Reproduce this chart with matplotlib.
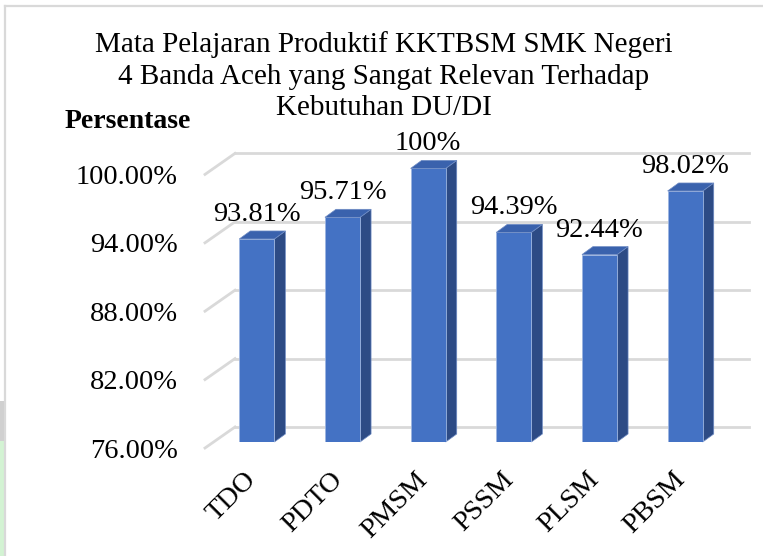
import matplotlib
matplotlib.use("Agg")
import matplotlib.pyplot as plt
from matplotlib.patches import Polygon, Rectangle
from matplotlib.lines import Line2D
import numpy as np

plt.rcParams['font.family'] = ['Liberation Serif', 'DejaVu Serif']

categories = ["TDO", "PDTO", "PMSM", "PSSM", "PLSM", "PBSM"]
values = [93.81, 95.71, 100.0, 94.39, 92.44, 98.02]
value_labels = ["93.81%", "95.71%", "100%", "94.39%", "92.44%", "98.02%"]
yticks = [76, 82, 88, 94, 100]
ytick_labels = ["76.00%", "82.00%", "88.00%", "94.00%", "100.00%"]
title_lines = ["Mata Pelajaran Produktif KKTBSM SMK Negeri",
               "4 Banda Aceh yang Sangat Relevan Terhadap",
               "Kebutuhan DU/DI"]
ylabel = "Persentase"

W, H = 763, 556
fig = plt.figure(figsize=(W / 100, H / 100), dpi=100)
fig.patch.set_facecolor("white")

ax = fig.add_axes([214 / W, (H - 442) / H, 514 / W, 273.6 / H])
ax.set_xlim(-0.5, 5.5)
ax.set_ylim(76, 100)
ax.axis("off")

# pixel -> data conversion
p0 = ax.transData.transform((0, 76))
p1 = ax.transData.transform((1, 77))
px_x = p1[0] - p0[0]
px_y = p1[1] - p0[1]

def dx(px):
    return px / px_x

def dy(px):
    return px / px_y

grid_c = "#d9d9d9"
back = (dx(21), dy(15))
front = (dx(-9), dy(-6))
x0, x1 = -0.5, 5.5
for t in yticks:
    ax.add_line(Line2D([x0 + back[0], x1 + back[0]], [t + back[1], t + back[1]],
                       color=grid_c, lw=2, zorder=0, clip_on=False))
    ax.add_line(Line2D([x0 + front[0], x0 + back[0]], [t + front[1], t + back[1]],
                       color=grid_c, lw=2, zorder=0, clip_on=False))

# bars with pseudo-3D faces
x = np.arange(len(categories))
w = 0.41
sdx, sdy = dx(11), dy(8)
vals = np.array(values)
ax.bar(x, vals - 76, bottom=76, width=w, color="#4472C4",
       edgecolor="#9db5e0", linewidth=0.6, zorder=3)
for xi, v in zip(x, vals):
    r = xi + w / 2
    l = xi - w / 2
    side = Polygon([(r, 76), (r + sdx, 76 + sdy), (r + sdx, v + sdy), (r, v)],
                   closed=True, facecolor="#2D4B85", edgecolor="#6f8cc4",
                   linewidth=0.5, zorder=2, clip_on=False)
    top = Polygon([(l, v), (r, v), (r + sdx, v + sdy), (l + sdx, v + sdy)],
                  closed=True, facecolor="#3A62AD", edgecolor="#6f8cc4",
                  linewidth=0.5, zorder=4, clip_on=False)
    ax.add_patch(side)
    ax.add_patch(top)

# data labels
for xi, v, lab in zip(x, vals, value_labels):
    ax.annotate(lab, (xi, v), xytext=(0, 18), textcoords="offset pixels",
                ha="center", va="baseline", fontsize=20.5, color="black",
                annotation_clip=False)

# y tick labels on front plane
for t, lab in zip(yticks, ytick_labels):
    ax.annotate(lab, (x0, t), xytext=(-36, -9), textcoords="offset pixels",
                ha="right", va="center", fontsize=20.5, color="black",
                annotation_clip=False)

# x category labels
for xi, lab in zip(x, categories):
    ax.annotate(lab, (xi, 76), xytext=(-13, -25), textcoords="offset pixels",
                ha="right", va="top", rotation=45, rotation_mode="anchor",
                fontsize=20.5, color="black", annotation_clip=False)

# title (three centred lines) and axis label
for line, base in zip(title_lines, [52, 83.5, 115]):
    fig.text(0.503, 1 - base / H, line, ha="center", va="baseline", fontsize=21)
fig.text(65 / W, 1 - 128 / H, ylabel, ha="left", va="baseline", fontsize=20,
         fontweight="bold")

# chart border and edge watermark
fig.add_artist(Line2D([5 / W, 1], [1 - 6 / H, 1 - 6 / H], transform=fig.transFigure,
                      color="#d9d9d9", lw=1.6))
fig.add_artist(Line2D([5 / W, 5 / W], [0, 1 - 6 / H], transform=fig.transFigure,
                      color="#d9d9d9", lw=1.6))
fig.add_artist(Rectangle((0, 0), 4 / W, 115 / H, transform=fig.transFigure,
                         facecolor="#d3f3d3", edgecolor="none"))
fig.add_artist(Rectangle((0, 115 / H), 4 / W, 40 / H, transform=fig.transFigure,
                         facecolor="#d0d0d0", edgecolor="none"))

fig.savefig("out.png", dpi=100)
